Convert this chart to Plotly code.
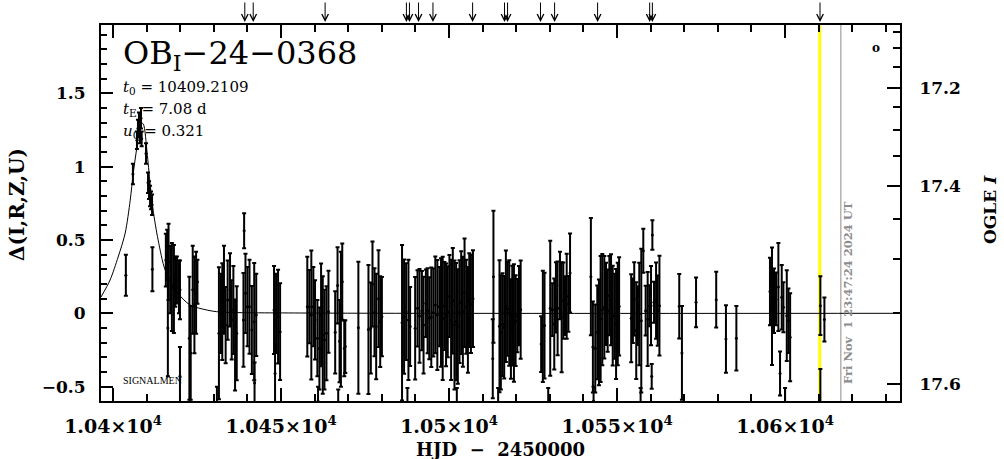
import plotly.graph_objects as go

# ---------------- data ----------------
hjd = [10403.8, 10405.9, 10407.1, 10407.4, 10407.7, 10408.0, 10408.3, 10408.5, 10409.8, 10410.4,
       10410.7, 10411.0, 10411.3, 10411.6, 10411.7,
       10415.7, 10416.1, 10416.5, 10416.3, 10417.0, 10417.5, 10418.1, 10418.5, 10419.0, 10419.6, 10419.9, 10419.9,
       10422.7, 10423.1, 10423.7, 10424.2, 10424.7, 10425.1,
       10431.5, 10432.1, 10432.5, 10433.0, 10433.5, 10434.1, 10434.8, 10435.3, 10435.8, 10436.3, 10436.8,
       10439.0, 10438.8, 10439.4, 10440.0, 10440.6, 10441.3, 10442.0, 10442.6, 10442.1,
       10447.9, 10448.5, 10449.1, 10449.7, 10448.2,
       10457.8, 10458.4, 10459.0, 10459.6, 10460.1, 10460.8, 10461.4, 10461.9, 10462.4, 10462.9, 10463.5, 10464.1,
       10466.1, 10466.8, 10467.4, 10467.8, 10468.2, 10468.8, 10469.1,
       10473.0,
       10476.0, 10476.7, 10477.2, 10477.8, 10478.3, 10479.0, 10479.5, 10480.0,
       10486.0, 10486.6, 10487.2, 10487.9, 10488.4,
       10489.9, 10490.6, 10491.2, 10491.9, 10492.4, 10493.1, 10493.6, 10494.1, 10494.7, 10495.3, 10495.9,
       10496.5, 10497.1, 10497.6, 10498.1, 10498.6, 10499.1, 10499.6, 10500.1, 10500.6, 10501.1, 10501.6,
       10502.1, 10502.6, 10503.1, 10503.6, 10504.1, 10504.6, 10505.1, 10505.6, 10506.0, 10506.5, 10507.1,
       10513.2, 10513.0, 10515.0, 10515.4, 10515.9, 10516.4, 10516.9, 10517.4, 10517.9, 10518.4, 10518.8,
       10519.3, 10519.8, 10520.3, 10520.8, 10521.3,
       10527.4, 10527.9, 10528.4, 10530.1, 10530.7, 10531.3, 10531.8, 10532.3, 10533.0, 10533.5, 10534.0,
       10534.5, 10535.0, 10535.5, 10536.0,
       10542.2, 10542.8, 10543.5, 10544.1, 10544.6, 10545.1, 10545.6, 10546.2, 10546.7, 10547.2, 10547.7,
       10548.2, 10548.7, 10549.2, 10549.7, 10550.2, 10550.6,
       10554.2, 10554.7, 10555.1, 10555.7, 10556.2, 10556.6, 10557.2, 10557.8, 10558.5, 10559.1, 10559.6,
       10560.1, 10560.5, 10560.3, 10561.0, 10561.6, 10562.1, 10562.6,
       10568.5, 10569.3, 10573.5, 10579.5, 10582.4, 10585.5,
       10595.5, 10596.1, 10596.7, 10597.3, 10598.0, 10598.5, 10599.0, 10599.5, 10600.5, 10601.0, 10601.5, 10600.0,
       10610.5, 10611.7, 10610.5,
       10430.9, 10461.0, 10467.0, 10487.6, 10502.3, 10514.6, 10529.5, 10543.0, 10557.0]

delta = [0.26, 0.95, 1.18, 1.26, 1.30, 1.22, 1.33, 1.19, 1.09, 0.89,
         0.84, 0.80, 0.77, 0.74, 0.30,
         0.363, 0.40, 0.35, -0.10, 0.23, 0.18, 0.165, 0.215, 0.227, 0.18, 0.16, -0.43,
         -0.17, -0.27, 0.16, 0.057, 0.14, 0.215,
         -0.136, 0.0, 0.011, 0.16, -0.08, 0.09, 0.16, -0.045, 0.023, -0.216, -0.136,
         0.563, -0.045, 0.136, 0.045, 0.045, -0.114, -0.057, -0.011, -0.475,
         0.023, 0.0, -0.023, -0.125, -0.41,
         0.045, 0.045, -0.011, 0.045, -0.045, -0.17, -0.24, -0.011, -0.148, -0.18, -0.136, 0.011,
         -0.13, 0.19, -0.19, -0.04, 0.216, -0.24, -0.227,
         -0.098,
         -0.11, -0.10, 0.20, 0.007, -0.09, 0.10, -0.057, -0.023,
         -0.064, -0.023, 0.011, -0.045, -0.09,
         -0.102, 0.034, -0.018, 0.018, -0.08, 0.068, 0.018, -0.034, -0.027, 0.005, 0.057,
         -0.011, 0.045, 0.005, -0.034, 0.05, -0.011, 0.011, 0.118, -0.045, 0.086, -0.08,
         -0.057, -0.09, 0.011, 0.073, 0.011, 0.14, 0.045, -0.045, 0.09, 0.064, 0.10,
         0.25, -0.31, -0.089, -0.13, -0.077, -0.095, 0.048, 0.03, 0.002, -0.107, -0.016,
         -0.066, -0.05, -0.016, 0.052, 0.025,
         -0.21, -0.089, -0.084, 0.034, 0.025, -0.073, 0.109, 0.034, 0.19, -0.027, 0.086,
         0.052, 0.116, 0.064, 0.275,
         0.25, -0.23, -0.24, -0.13, -0.13, -0.039, 0.025, 0.041, 0.064, 0.018, 0.12,
         0.093, -0.016, -0.02, -0.073, -0.005, 0.048,
         -0.034, 0.018, 0.098, -0.118, -0.016, -0.005, -0.05, 0.427, 0.018, -0.039, 0.052,
         0.052, 0.534, -0.43, 0.075, 0.086, 0.018, 0.052,
         0.048, -0.27, 0.075, 0.093, -0.175, -0.17,
         0.148, 0.048, 0.086, 0.098, 0.18, -0.41, 0.109, 0.041, -0.016, -0.05, -0.164, -0.65,
         0.052, -0.043, -0.70,
         -0.62, -0.60, -0.66, -0.63, -0.61, -0.64, -0.62, -0.60, -0.63]

err = [0.14, 0.07, 0.06, 0.06, 0.07, 0.06, 0.07, 0.05, 0.07, 0.07,
       0.06, 0.07, 0.06, 0.07, 0.15,
       0.18, 0.17, 0.26, 0.33, 0.23, 0.30, 0.30, 0.17, 0.16, 0.18, 0.20, 0.20,
       0.42, 0.32, 0.30, 0.33, 0.28, 0.15,
       0.45, 0.27, 0.33, 0.30, 0.26, 0.27, 0.25, 0.27, 0.30, 0.31, 0.32,
       0.12, 0.32, 0.27, 0.27, 0.32, 0.30, 0.40, 0.28, 0.14,
       0.30, 0.27, 0.32, 0.33, 0.20,
       0.34, 0.25, 0.44, 0.27, 0.27, 0.26, 0.28, 0.35, 0.40, 0.34, 0.32, 0.28,
       0.28, 0.26, 0.28, 0.46, 0.26, 0.19, 0.18,
       0.45,
       0.44, 0.31, 0.29, 0.30, 0.36, 0.33, 0.31, 0.27,
       0.53, 0.39, 0.33, 0.41, 0.27,
       0.35, 0.26, 0.32, 0.27, 0.33, 0.23, 0.29, 0.28, 0.34, 0.30, 0.33,
       0.375, 0.27, 0.37, 0.42, 0.30, 0.35, 0.31, 0.28, 0.41, 0.36, 0.44,
       0.40, 0.39, 0.35, 0.35, 0.375, 0.37, 0.32, 0.36, 0.32, 0.335, 0.33,
       0.45, 0.27, 0.45, 0.39, 0.35, 0.35, 0.38, 0.32, 0.36, 0.34, 0.34,
       0.40, 0.31, 0.25, 0.27, 0.335,
       0.19, 0.38, 0.36, 0.46, 0.18, 0.31, 0.24, 0.32, 0.23, 0.375, 0.26,
       0.20, 0.29, 0.19, 0.27,
       0.40, 0.31, 0.30, 0.32, 0.36, 0.43, 0.38, 0.35, 0.28, 0.28, 0.27,
       0.31, 0.34, 0.29, 0.375, 0.35, 0.335,
       0.30, 0.22, 0.25, 0.33, 0.20, 0.35, 0.49, 0.15, 0.17, 0.32, 0.14,
       0.27, 0.10, 0.085, 0.14, 0.26, 0.24, 0.34,
       0.22, 0.32, 0.17, 0.19, 0.23, 0.22,
       0.23, 0.40, 0.22, 0.18, 0.30, 0.15, 0.22, 0.17, 0.31, 0.22, 0.30, 0.14,
       0.20, 0.15, 0.32,
       0.12, 0.10, 0.14, 0.12, 0.10, 0.13, 0.11, 0.10, 0.12]

# model curve
model_hjd = [10396.4, 10399.1, 10401.5, 10403.6, 10405.1, 10406.0, 10407.1, 10408.3, 10409.0, 10410.1,
             10411.0, 10411.9, 10413.4, 10415.5, 10419.0, 10422.9, 10428.0, 10431.8, 10455.7, 10634.2]
model_delta = [0.111, 0.227, 0.384, 0.547, 0.772, 0.956, 1.134, 1.30, 1.29, 1.10,
               0.886, 0.704, 0.50, 0.295, 0.145, 0.057, 0.022, 0.009, 0.002, 0.0]

# observation arrows along the top
arrow_hjd = [10439.2, 10441.7, 10463.1, 10487.3, 10488.2, 10490.9, 10495.2, 10507.0, 10516.5, 10517.4,
             10527.2, 10531.4, 10544.2, 10559.7, 10560.5, 10610.4]

yellow_hjd = 10610.3
now_hjd = 10616.6

x_tickvals = [10400, 10450, 10500, 10550, 10600]
x_ticktext = ["1.04×10<sup>4</sup>", "1.045×10<sup>4</sup>", "1.05×10<sup>4</sup>",
              "1.055×10<sup>4</sup>", "1.06×10<sup>4</sup>"]
y_tickvals = [-0.5, 0, 0.5, 1, 1.5]
y_ticktext = ["−0.5", "0", "0.5", "1", "1.5"]
ogle_labels = ["17.2", "17.4", "17.6"]
ogle_pos = [1.534, 0.870, -0.484]
ogle_minor_pos = [1.920, 1.806, 1.681, 1.404, 1.250, 1.072, 0.643, 0.372, 0.0]

x_range = [10396.4, 10634.2]
y_range = [-0.598, 1.966]

# ---------------- figure ----------------
L, R, T, B = 101, 104, 25, 58
W, H = 1004, 459
PW, PH = W - L - R, H - T - B


def px(xp):
    return (xp - L) / PW


def py(yp):
    return (H - B - yp) / PH


SERIF = "DejaVu Serif"
fig = go.Figure()

fig.add_shape(type="line", x0=yellow_hjd, x1=yellow_hjd, y0=0, y1=1, xref="x", yref="paper",
              line=dict(color="#ffff00", width=3), layer="below")
fig.add_shape(type="line", x0=now_hjd, x1=now_hjd, y0=0, y1=1, xref="x", yref="paper",
              line=dict(color="#8c8c8c", width=1), layer="below")

fig.add_trace(go.Scatter(x=model_hjd, y=model_delta, mode="lines", line=dict(color="black", width=1, shape="spline", smoothing=0.8),
                         hoverinfo="skip", showlegend=False, yaxis="y2"))

fig.add_trace(go.Scatter(x=hjd, y=delta, mode="markers",
                         marker=dict(color="black", size=3),
                         error_y=dict(type="data", array=err, visible=True, color="black", thickness=2, width=2),
                         showlegend=False))

tickfont = dict(family=SERIF, size=17, color="black", weight="bold")
xtickfont = dict(family=SERIF, size=19, color="black", weight="bold")

fig.update_layout(
    width=W, height=H, margin=dict(l=L, r=R, t=T, b=B, pad=0),
    plot_bgcolor="white", paper_bgcolor="white", showlegend=False,
    xaxis=dict(range=x_range, showgrid=False, zeroline=False, showline=True, linecolor="black", linewidth=2,
               mirror="ticks", ticks="inside", ticklen=13, tickwidth=1.5, tickcolor="black",
               tickmode="array", tickvals=x_tickvals, ticktext=x_ticktext, tickfont=xtickfont,
               ticklabelstandoff=7,
               minor=dict(tick0=10400, dtick=10, ticks="inside", ticklen=7, tickwidth=1.5, tickcolor="black", showgrid=False)),
    yaxis=dict(range=y_range, showgrid=False, zeroline=False, showline=True, linecolor="black", linewidth=2,
               mirror=False, ticks="inside", ticklen=12, tickwidth=1.5, tickcolor="black",
               tickmode="array", tickvals=y_tickvals, ticktext=y_ticktext, tickfont=tickfont,
               ticklabelstandoff=10,
               minor=dict(tick0=0, dtick=0.1, ticks="inside", ticklen=6, tickwidth=1.5, tickcolor="black", showgrid=False)),
    yaxis2=dict(range=y_range, overlaying="y", side="right", showgrid=False, zeroline=False, showline=True,
                linecolor="black", linewidth=2, ticks="inside", ticklen=13, tickwidth=1.5, tickcolor="black",
                tickmode="array", tickvals=ogle_pos, ticktext=ogle_labels, tickfont=tickfont,
                ticklabelstandoff=14,
                minor=dict(tickmode="array", tickvals=ogle_minor_pos, ticks="inside", ticklen=7, tickwidth=1.5,
                           tickcolor="black", showgrid=False)),
)

ann = []
for a in arrow_hjd:
    ann.append(dict(x=a, y=py(22), xref="x", yref="paper", text="", showarrow=True,
                    arrowhead=5, arrowsize=1.3, arrowwidth=1, arrowcolor="black", ax=0, ay=-21, standoff=0))

ann += [
    dict(x=px(121), y=py(55), xref="paper", yref="paper", xanchor="left", yanchor="middle", showarrow=False,
         text="OB<sub>I</sub>−24−0368", font=dict(family=SERIF, size=32, color="black")),
    dict(x=px(121), y=py(87), xref="paper", yref="paper", xanchor="left", yanchor="middle", showarrow=False,
         text="<i>t</i><sub>0</sub> = 10409.2109", font=dict(family=SERIF, size=15, color="black")),
    dict(x=px(121), y=py(109), xref="paper", yref="paper", xanchor="left", yanchor="middle", showarrow=False,
         text="<i>t</i><sub>E</sub> = 7.08 d", font=dict(family=SERIF, size=15, color="black")),
    dict(x=px(121), y=py(131), xref="paper", yref="paper", xanchor="left", yanchor="middle", showarrow=False,
         text="<i>u</i><sub>0</sub> = 0.321", font=dict(family=SERIF, size=15, color="black")),
    dict(x=px(121), y=py(380), xref="paper", yref="paper", xanchor="left", yanchor="middle", showarrow=False,
         text="SIGNALMEN", font=dict(family="Liberation Serif", size=10, color="black")),
    dict(x=px(876), y=py(48), xref="paper", yref="paper", xanchor="center", yanchor="middle", showarrow=False,
         text="<b>o</b>", font=dict(family=SERIF, size=12, color="black")),
    dict(x=px(848), y=py(293), xref="paper", yref="paper", xanchor="center", yanchor="middle", showarrow=False,
         textangle=-90, text="Fri Nov  1 23:47:24 2024 UT".replace("  ", "&nbsp; "),
         font=dict(family=SERIF, size=11.5, color="#8c8c8c", weight="bold")),
    dict(x=px(17), y=py(205), xref="paper", yref="paper", xanchor="center", yanchor="middle", showarrow=False,
         textangle=-90, text="Δ(I,R,Z,U)", font=dict(family=SERIF, size=20, color="black", weight="bold")),
    dict(x=px(500), y=py(449), xref="paper", yref="paper", xanchor="center", yanchor="middle", showarrow=False,
         text="HJD  −  2450000", font=dict(family=SERIF, size=18, color="black", weight="bold")),
    dict(x=px(990), y=py(210), xref="paper", yref="paper", xanchor="center", yanchor="middle", showarrow=False,
         textangle=-90, text="OGLE <i>I</i>", font=dict(family=SERIF, size=17, color="black", weight="bold")),
]
fig.update_layout(annotations=ann)

fig.write_html("out.html", config={"displayModeBar": False},
               post_script="document.body.style.margin='0';document.body.style.padding='0';")
